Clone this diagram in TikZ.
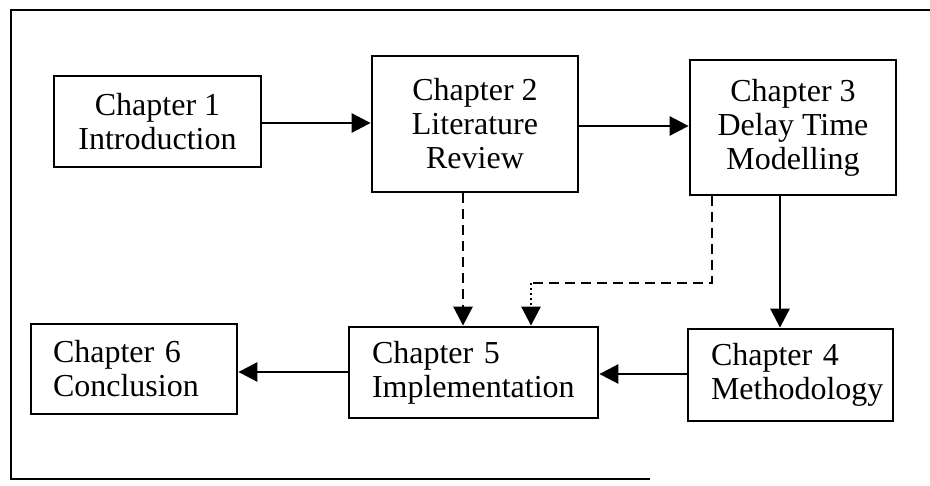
\documentclass[tikz,border=0pt]{standalone}
\usepackage{fontspec}
\setmainfont{Liberation Serif}
\usetikzlibrary{arrows.meta}
\begin{document}
\begin{tikzpicture}[x=0.5pt,y=-0.5pt,
  box/.style={draw,line width=1.4pt,rectangle,inner sep=0pt,
    font=\fontsize{16}{17}\selectfont},
  cbox/.style={box,align=center},
  lbox/.style={box,align=left,text width=#1},
  con/.style={line width=1.4pt,-{Triangle[length=9.5pt,width=9.5pt]}},
  dcon/.style={line width=1.4pt,dash pattern=on 5pt off 3pt},
  dotcon/.style={line width=1.4pt,dash pattern=on 1pt off 1.5pt}]
\useasboundingbox (0,0) rectangle (930,486);
\draw[line width=1.4pt] (930,10) -- (11,10) -- (11,479) -- (650,479);
\node[cbox,minimum width=103.5pt,minimum height=45.5pt] (c1) at (157.5,121.5) {Chapter 1\\Introduction};
\node[cbox,minimum width=103pt,minimum height=68pt] (c2) at (475,124) {Chapter 2\\Literature\\Review};
\node[cbox,minimum width=103pt,minimum height=67.5pt] (c3) at (793,127.5) {Chapter 3\\Delay Time\\Modelling};
\node[lbox=81pt,minimum height=45pt,inner xsep=11pt] (c6) at (134,369) {Chapter 6\\Conclusion};
\node[lbox=101.5pt,minimum height=45.5pt,inner xsep=11.5pt] (c5) at (473.5,372.5) {Chapter 5\\Implementation};
\node[lbox=79.5pt,minimum height=46pt,inner xsep=11.5pt] (c4) at (790.5,375) {Chapter 4\\Methodology};
\draw[con] (c1.east |- 0,123) -- (c2.west |- 0,123);
\draw[con] (c2.east |- 0,126) -- (c3.west |- 0,126);
\draw[con] (c3.south -| 780,0) -- (c4.north -| 780,0);
\draw[con] (c4.west |- 0,374) -- (c5.east |- 0,374);
\draw[con] (c5.west |- 0,372) -- (c6.east |- 0,372);
\draw[dcon,-{Triangle[length=9.5pt,width=9.5pt]}] (c2.south -| 463,0) -- (c5.north -| 463,0);
\coordinate (k1) at (712,283);
\coordinate (k2) at (531,283);
\draw[dcon] (c3.south -| 712,0) -- (k1) -- (k2);
\draw[dotcon,-{Triangle[length=9.5pt,width=9.5pt]}] (k2) -- (c5.north -| 531,0);
\end{tikzpicture}
\end{document}
